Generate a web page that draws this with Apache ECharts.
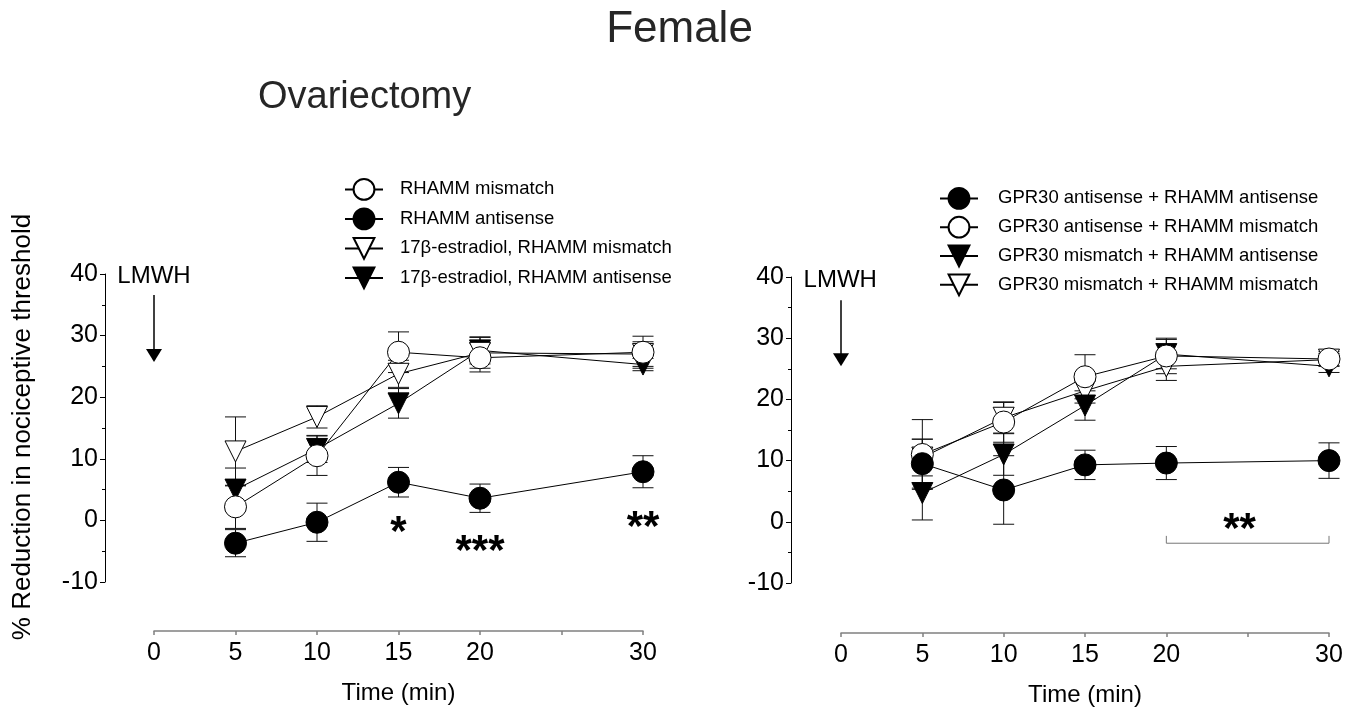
<!DOCTYPE html>
<html>
<head>
<meta charset="utf-8">
<title>Female - Ovariectomy</title>
<script src="https://cdn.jsdelivr.net/npm/echarts@6/dist/echarts.min.js"></script>
<style>
  html, body { margin: 0; padding: 0; background: #fff; }
  #chart { width: 1358px; height: 708px; }
</style>
</head>
<body>
<div id="chart"></div>
<script>
const FONT = '"Liberation Sans", Arial, Helvetica, sans-serif'

// time after injection (min)
const timePoints = [5, 10, 15, 20, 30]
const xTickLabels = ['0', '5', '10', '15', '20', '30'] // 25 has a tick but no label

// left panel: ovariectomy, mean and SEM
const rhammMismatch = [2.2, 10.5, 27.3, 26.4, 27.3]
const rhammMismatchSem = [3.5, 3.2, 3.3, 2.3, 2.6]
const rhammAntisense = [-3.7, -0.3, 6.2, 3.6, 7.9]
const rhammAntisenseSem = [2.2, 3.1, 2.4, 2.3, 2.6]
const e2RhammMismatch = [11.2, 16.8, 23.8, 27.2, 27.0]
const e2RhammMismatchSem = [5.6, 1.8, 2.2, 2.5, 2.0]
const e2RhammAntisense = [5.0, 11.6, 19.0, 27.6, 25.3]
const e2RhammAntisenseSem = [3.5, 2.2, 2.4, 2.2, 1.0]

// right panel: GPR30 / RHAMM combinations, mean and SEM
const gprAntiRhammAnti = [9.5, 5.2, 9.3, 9.6, 10.0]
const gprAntiRhammAntiSem = [4.0, 5.6, 2.4, 2.7, 2.9]
const gprAntiRhammMis = [11.0, 16.3, 23.7, 27.1, 26.6]
const gprAntiRhammMisSem = [5.7, 3.3, 3.6, 2.9, 1.2]
const gprMisRhammAnti = [4.7, 11.0, 19.0, 27.4, 25.4]
const gprMisRhammAntiSem = [4.4, 3.4, 2.4, 2.4, 1.0]
const gprMisRhammMis = [10.5, 17.0, 21.4, 25.4, 26.5]
const gprMisRhammMisSem = [3.0, 2.5, 2.0, 2.3, 1.0]

const leftLegend = ['RHAMM mismatch', 'RHAMM antisense', '17β-estradiol, RHAMM mismatch', '17β-estradiol, RHAMM antisense']
const rightLegend = ['GPR30 antisense + RHAMM antisense', 'GPR30 antisense + RHAMM mismatch', 'GPR30 mismatch + RHAMM antisense', 'GPR30 mismatch + RHAMM mismatch']

// draw order (last one on top)
const leftGroups = [
  { name: leftLegend[3], mean: e2RhammAntisense, sem: e2RhammAntisenseSem, symbol: 'triangle', fill: '#000' },
  { name: leftLegend[2], mean: e2RhammMismatch, sem: e2RhammMismatchSem, symbol: 'triangle', fill: '#fff' },
  { name: leftLegend[1], mean: rhammAntisense, sem: rhammAntisenseSem, symbol: 'circle', fill: '#000' },
  { name: leftLegend[0], mean: rhammMismatch, sem: rhammMismatchSem, symbol: 'circle', fill: '#fff' }
]
const rightGroups = [
  { name: rightLegend[3], mean: gprMisRhammMis, sem: gprMisRhammMisSem, symbol: 'triangle', fill: '#fff' },
  { name: rightLegend[2], mean: gprMisRhammAnti, sem: gprMisRhammAntiSem, symbol: 'triangle', fill: '#000' },
  { name: rightLegend[1], mean: gprAntiRhammMis, sem: gprAntiRhammMisSem, symbol: 'circle', fill: '#fff' },
  { name: rightLegend[0], mean: gprAntiRhammAnti, sem: gprAntiRhammAntiSem, symbol: 'circle', fill: '#000' }
]

function errorBar(params, api) {
  const x = api.value(0)
  const y = api.value(1)
  const e = api.value(2)
  const hi = api.coord([x, y + e])
  const lo = api.coord([x, y - e])
  const half = 10.5
  const style = { stroke: '#111', lineWidth: 1 }
  return {
    type: 'group',
    children: [
      { type: 'line', shape: { x1: hi[0], y1: hi[1], x2: lo[0], y2: lo[1] }, style },
      { type: 'line', shape: { x1: hi[0] - half, y1: hi[1], x2: hi[0] + half, y2: hi[1] }, style },
      { type: 'line', shape: { x1: lo[0] - half, y1: lo[1], x2: lo[0] + half, y2: lo[1] }, style }
    ]
  }
}

function buildSeries(groups, idx) {
  const out = []
  groups.forEach(g => {
    out.push({
      type: 'custom',
      name: g.name + ' SEM',
      xAxisIndex: idx,
      yAxisIndex: idx,
      renderItem: errorBar,
      encode: { x: 0, y: 1 },
      data: timePoints.map((t, i) => [t, g.mean[i], g.sem[i]]),
      silent: true,
      clip: false,
      z: 1
    })
  })
  groups.forEach(g => {
    const tri = g.symbol === 'triangle'
    out.push({
      type: 'line',
      name: g.name,
      xAxisIndex: idx,
      yAxisIndex: idx,
      data: timePoints.map((t, i) => [t, g.mean[i]]),
      symbol: g.symbol,
      symbolSize: tri ? 21 : 22,
      symbolRotate: tri ? 180 : 0,
      showAllSymbol: true,
      lineStyle: { color: '#000', width: 1 },
      itemStyle: { color: g.fill, borderColor: '#000', borderWidth: 1 },
      emphasis: { disabled: true },
      z: 2
    })
  })
  return out
}

function xAxisFor(idx, offset) {
  return {
    type: 'value',
    gridIndex: idx,
    min: 0,
    max: 30,
    interval: 5,
    offset: offset,
    name: 'Time (min)',
    nameLocation: 'middle',
    nameGap: 50,
    nameTextStyle: { color: '#000', fontSize: 24, fontFamily: FONT },
    axisLine: { onZero: false, lineStyle: { color: '#808080', width: 1.5 } },
    axisTick: { length: 4, lineStyle: { color: '#808080', width: 1.5 } },
    axisLabel: {
      color: '#000', fontSize: 25, fontFamily: FONT, margin: 10,
      formatter: v => (xTickLabels.indexOf(String(v)) >= 0 ? String(v) : '')
    },
    splitLine: { show: false }
  }
}

function yAxisFor(idx, offset) {
  return {
    type: 'value',
    gridIndex: idx,
    min: -10,
    max: 40,
    interval: 10,
    offset: offset,
    axisLine: { show: true, onZero: false, lineStyle: { color: '#000', width: 1 } },
    axisTick: { show: true, length: 5, lineStyle: { color: '#000' } },
    minorTick: { show: true, splitNumber: 2, length: 3, lineStyle: { color: '#000' } },
    axisLabel: { color: '#000', fontSize: 25, fontFamily: FONT, margin: 7 },
    splitLine: { show: false },
    minorSplitLine: { show: false }
  }
}

const legendText = { color: '#000', fontSize: 18.5, fontFamily: FONT }

const chart = echarts.init(document.getElementById('chart'))
chart.setOption({
  animation: false,
  backgroundColor: '#fff',
  grid: [
    { left: 154, top: 274, width: 489, height: 308 },
    { left: 841, top: 277, width: 488, height: 309 }
  ],
  xAxis: [xAxisFor(0, 49), xAxisFor(1, 50)],
  yAxis: [yAxisFor(0, 49), yAxisFor(1, 50)],
  legend: [
    {
      orient: 'vertical', left: 339, top: 173,
      itemWidth: 38, itemHeight: 26, itemGap: 6.7,
      data: leftLegend, selectedMode: false,
      textStyle: Object.assign({ padding: [0, 0, 0, 12] }, legendText)
    },
    {
      orient: 'vertical', left: 934, top: 182,
      itemWidth: 38, itemHeight: 26, itemGap: 6,
      data: rightLegend, selectedMode: false,
      textStyle: Object.assign({ padding: [0, 0, 0, 15] }, legendText)
    }
  ],
  series: buildSeries(leftGroups, 0).concat(buildSeries(rightGroups, 1))
})

// annotations placed through the chart's own coordinate conversion
const px = (g, x, y) => chart.convertToPixel({ gridIndex: g }, [x, y])

function lmwh(g, textAt, arrowTop, arrowTip) {
  const t = px(g, textAt[0], textAt[1])
  const a = px(g, 0, arrowTop)
  const b = px(g, 0, arrowTip)
  return [
    { type: 'text', x: t[0], y: t[1], style: { text: 'LMWH', fontSize: 24, fontFamily: FONT, fill: '#000', textVerticalAlign: 'middle' } },
    { type: 'line', shape: { x1: a[0], y1: a[1], x2: b[0], y2: b[1] - 10 }, style: { stroke: '#000', lineWidth: 1.5 } },
    { type: 'polygon', shape: { points: [[b[0] - 8, b[1] - 13], [b[0] + 8, b[1] - 13], [b[0], b[1]]] }, style: { fill: '#000' } }
  ]
}

function stars(g, x, y, text) {
  const p = px(g, x, y)
  const size = 42
  return {
    type: 'text', x: p[0], y: p[1] + size * 0.23,
    style: { text, fontSize: size, fontWeight: 'bold', fontFamily: FONT, fill: '#000', textAlign: 'center', textVerticalAlign: 'middle' }
  }
}

const b0 = px(1, 20, -2.3)
const b1 = px(1, 20, -3.5)
const b2 = px(1, 30, -3.5)

chart.setOption({
  graphic: [
    { type: 'text', x: 679.5, y: 30, style: { text: 'Female', fontSize: 44, fontFamily: FONT, fill: '#262626', textAlign: 'center', textVerticalAlign: 'middle' } },
    { type: 'text', x: 258, y: 98, style: { text: 'Ovariectomy', fontSize: 38, fontFamily: FONT, fill: '#262626', textVerticalAlign: 'middle' } },
    { type: 'text', x: 23, y: 427, rotation: Math.PI / 2, style: { text: '% Reduction in nociceptive threshold', fontSize: 26, fontFamily: FONT, fill: '#000', textAlign: 'center', textVerticalAlign: 'middle' } },
    ...lmwh(0, [-2.25, 39.6], 36.6, 25.7),
    ...lmwh(1, [-2.3, 39.5], 36.2, 25.4),
    stars(0, 15, -0.5, '*'),
    stars(0, 20, -3.6, '***'),
    stars(0, 30, 0.3, '**'),
    stars(1, 24.5, 0.2, '**'),
    { type: 'polyline', shape: { points: [b0, b1, b2, [b2[0], b0[1]]] }, style: { stroke: '#777', lineWidth: 1, fill: null } }
  ]
})
</script>
</body>
</html>
